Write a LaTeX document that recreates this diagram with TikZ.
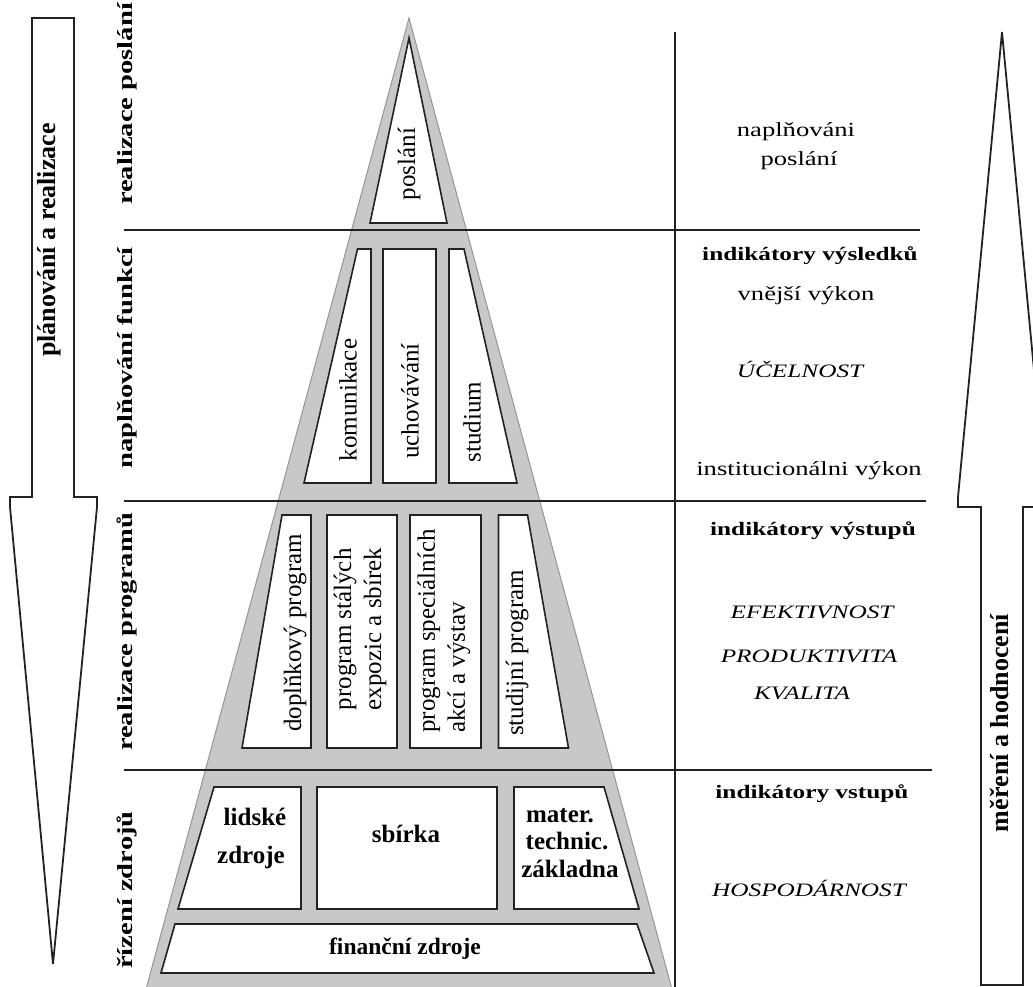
\documentclass[tikz,border=0pt]{standalone}
\usepackage{fontspec}
\setmainfont{Liberation Serif}
\newfontfamily\widefont[FakeStretch=1.33]{Liberation Serif}
\definecolor{pyrfill}{RGB}{200,200,200}
\definecolor{pyredge}{RGB}{150,150,150}
\definecolor{ink}{RGB}{34,34,34}
\begin{document}
\begin{tikzpicture}[x=1pt,y=-1pt,
  cell/.style={draw=ink, line width=1.6pt, fill=white, line join=miter},
  divider/.style={draw=ink, line width=1.3pt},
  bigarrow/.style={draw=ink, line width=1.8pt, fill=white, line join=miter},
  sidelabel/.style={rotate=90, inner sep=0pt, font=\widefont\bfseries\fontsize{21.5}{25}\selectfont},
  arrowlabel/.style={rotate=90, inner sep=0pt, font=\bfseries\fontsize{26}{30}\selectfont},
  celllabel/.style={rotate=90, inner sep=0pt, align=left, font=\fontsize{25}{30}\selectfont},
  baselabel/.style={anchor=base, inner sep=0pt, font=\bfseries\fontsize{25}{28}\selectfont},
  rtext/.style={anchor=base, inner sep=0pt, font=\widefont\fontsize{20}{23}\selectfont},
  rbold/.style={anchor=base, inner sep=0pt, font=\widefont\bfseries\fontsize{19}{22}\selectfont},
  rital/.style={anchor=base, inner sep=0pt, font=\widefont\itshape\fontsize{19}{22}\selectfont}
]
\useasboundingbox (0,0) rectangle (1033,987);

% grey pyramid body
\filldraw[fill=pyrfill, draw=pyredge, line width=1pt] (409,18) -- (673,993) -- (145,993) -- cycle;

% top: mission
\path[cell] (409,38) -- (447,223) -- (370,223) -- cycle;

% functions
\path[cell] (357.5,249) -- (371,249) -- (371,483) -- (304,483) -- cycle;
\path[cell] (383,249) rectangle (436,483);
\path[cell] (449,249) -- (464,249) -- (517,483) -- (449,483) -- cycle;

% programmes
\path[cell] (282,515) -- (311,515) -- (311,748) -- (242,748) -- cycle;
\path[cell] (327,515) rectangle (397,748);
\path[cell] (410,515) rectangle (481,748);
\path[cell] (498.5,515) -- (527.5,515) -- (568.5,748) -- (498.5,748) -- cycle;

% resources
\path[cell] (214,787) -- (301,787) -- (301,909) -- (178,909) -- cycle;
\path[cell] (317,787) rectangle (497,909);
\path[cell] (514,787) -- (604,787) -- (639,909) -- (514,909) -- cycle;
\path[cell] (175,924) -- (637,924) -- (654,973) -- (161,973) -- cycle;

% level dividers and column rule
\draw[divider] (124,230) -- (920,230);
\draw[divider] (124,501) -- (926,501);
\draw[divider] (124,770) -- (932,770);
\draw[divider] (675,32) -- (675,987);

% planning arrow (down) and evaluation arrow (up)
\path[bigarrow] (32,18) -- (74,18) -- (74,497) -- (97,497) -- (97,507) -- (53,964)
  -- (10,507) -- (10,497) -- (32,497) -- cycle;
\path[bigarrow] (981,985) -- (981,507) -- (958,507) -- (958,497) -- (1002,32)
  -- (1046,497) -- (1046,507) -- (1023,507) -- (1023,985) -- cycle;
\node[arrowlabel] (plan) at (49,240) {plánování a realizace};
\node[arrowlabel] (eval) at (999,723) {měření a hodnocení};

% level names
\node[sidelabel] (lv1) at (127,104) {realizace poslání};
\node[sidelabel] (lv2) at (127,358) {naplňování funkcí};
\node[sidelabel] (lv3) at (127,632) {realizace programů};
\node[sidelabel] (lv4) at (127,890) {řízení zdrojů};

% pyramid contents
\node[celllabel] (c1) at (409,164) {poslání};
\node[celllabel] (c2) at (348,400) {komunikace};
\node[celllabel] (c3) at (410,401) {uchovávání};
\node[celllabel] (c4) at (472,422) {studium};
\node[celllabel] (c5) at (295,633) {doplňkový program};
\node[celllabel] (c6) at (360,629) {program stálých\\expozic a sbírek};
\node[celllabel] (c7) at (444,631) {program speciálních\\akcí a výstav};
\node[celllabel] (c8) at (517,653) {studijní program};

\node[baselabel] (r1a) at (255,825) {lidské};
\node[baselabel] (r1b) at (251,863) {zdroje};
\node[baselabel] (r2) at (406,842) {sbírka};
\node[baselabel] (r3a) at (560,822) {mater.};
\node[baselabel] (r3b) at (567,849) {technic.};
\node[baselabel] (r3c) at (570,877) {základna};
\node[baselabel, font=\bfseries\fontsize{23.5}{26}\selectfont] (r4) at (405,954) {finanční zdroje};

% indicators column
\node[rtext] (i1) at (796,137) {naplňováni};
\node[rtext] (i2) at (799,166) {poslání};
\node[rbold] (i3) at (810,260) {indikátory výsledků};
\node[rtext] (i4) at (806,300) {vnější výkon};
\node[rital] (i5) at (800,377) {ÚČELNOST};
\node[rtext] (i6) at (809,475) {institucionálni výkon};
\node[rbold] (i7) at (813,535) {indikátory výstupů};
\node[rital] (i8) at (812,618) {EFEKTIVNOST};
\node[rital] (i9) at (809,662) {PRODUKTIVITA};
\node[rital] (i10) at (802,699) {KVALITA};
\node[rbold] (i11) at (812,798) {indikátory vstupů};
\node[rital] (i12) at (809,896) {HOSPODÁRNOST};
\end{tikzpicture}
\end{document}
